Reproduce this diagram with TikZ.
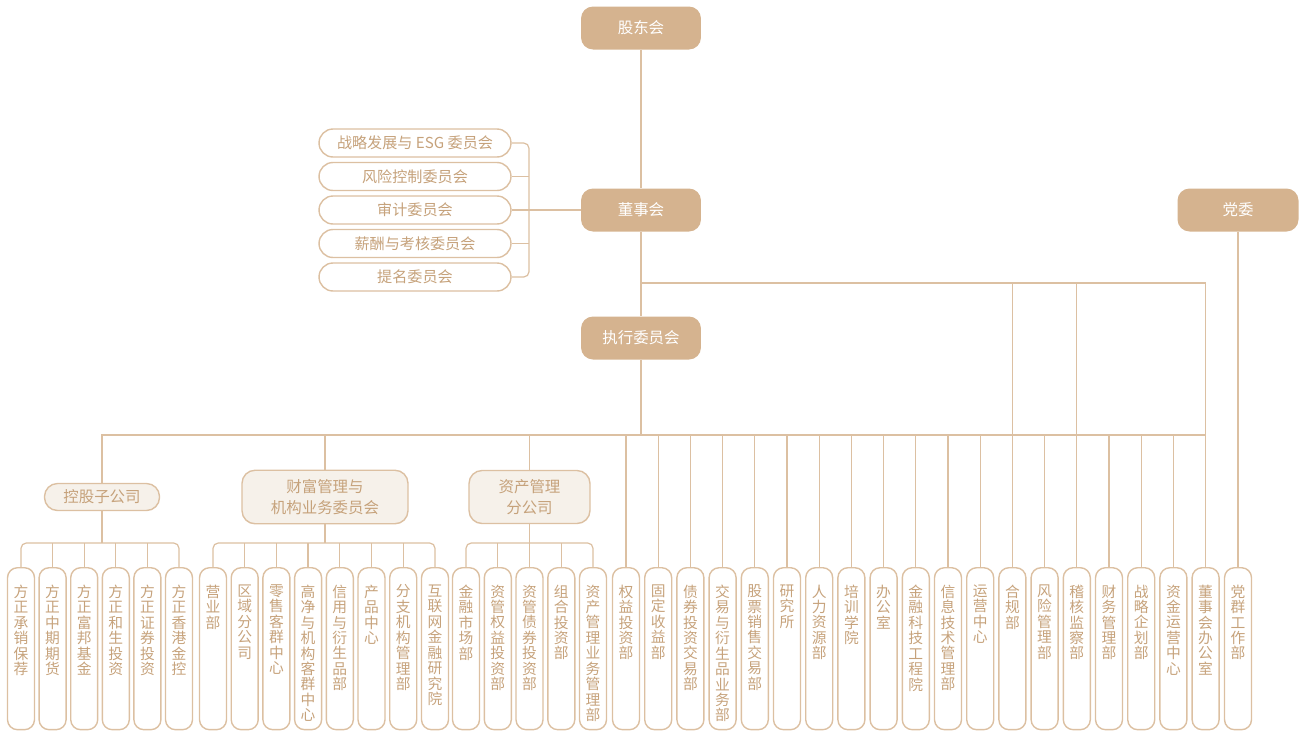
\documentclass[tikz,border=0pt]{standalone}
\usepackage{fontspec}
\newfontfamily\cjk{Noto Sans CJK SC}
\usepackage{tikz}
\usetikzlibrary{positioning}
\definecolor{tanfill}{HTML}{D5B38F}
\definecolor{tanline}{HTML}{DCC0A2}
\definecolor{tantext}{HTML}{C6A27B}
\definecolor{creamfill}{HTML}{F6F1EA}
% stack the characters of a column label
\def\colchars#1{\colcharsi#1\relax}
\def\colcharsi#1{\ifx\relax#1\else\hbox to 1em{\hss#1\hss}\expandafter\colcharsi\fi}
\newcommand\coltext[1]{\vbox to 2.56cm{\baselineskip=8.8pt\lineskiplimit=-20pt\colchars{#1}\vfill}}
\tikzset{
  topnode/.style={rounded corners=0.24cm, fill=tanfill, text=white, minimum width=2.4cm, minimum height=0.86cm, inner sep=0pt, font=\cjk\fontsize{8.8}{10}\selectfont},
  cmtnode/.style={rounded corners=0.28cm, draw=tanline, line width=0.8pt, fill=white, text=tantext, minimum width=3.84cm, minimum height=0.56cm, inner sep=0pt, font=\cjk\fontsize{8.6}{10}\selectfont},
  grpnode/.style={rounded corners=0.26cm, draw=tanline, line width=0.8pt, fill=creamfill, text=tantext, align=center, inner sep=0pt, font=\cjk\fontsize{8.8}{11.7}\selectfont},
  colbox/.style={rounded corners=0.2cm, draw=tanline, line width=0.8pt, anchor=north, text=tantext, minimum width=0.54cm, inner xsep=0pt, inner ysep=0.34cm, font=\cjk\fontsize{8.4}{8.8}\selectfont},
  link/.style={draw=tanline, line width=0.7pt},
}
\begin{document}
\begin{tikzpicture}[x=0.02cm, y=-0.02cm]
\useasboundingbox (0,0) rectangle (1301,731);
	% top level
\node [topnode] (gd) at (641,28) {股东会};
\node [topnode] (bd) at (641,210) {董事会};
\node [topnode] (ec) at (641,338) {执行委员会};
\node [topnode, minimum width=2.42cm] (pc) at (1238,210) {党委};
	% committees
\node [cmtnode] (cm1) at (415,143) {战略发展与 ESG 委员会};
\node [cmtnode] (cm2) at (415,176.5) {风险控制委员会};
\node [cmtnode] (cm3) at (415,210) {审计委员会};
\node [cmtnode] (cm4) at (415,243.5) {薪酬与考核委员会};
\node [cmtnode] (cm5) at (415,277) {提名委员会};
	% groups
\node [grpnode, minimum width=2.3cm, minimum height=0.54cm] (hc) at (102,497) {控股子公司};
\node [grpnode, minimum width=3.32cm, minimum height=1.07cm] (wm) at (325,497) {财富管理与\\机构业务委员会};
\node [grpnode, minimum width=2.42cm, minimum height=1.06cm] (am) at (529.5,497) {资产管理\\分公司};
	% columns
\node [colbox] (b0) at (21,567) {\coltext{方正承销保荐}};
\node [colbox] (b1) at (52.6,567) {\coltext{方正中期期货}};
\node [colbox] (b2) at (84.2,567) {\coltext{方正富邦基金}};
\node [colbox] (b3) at (115.8,567) {\coltext{方正和生投资}};
\node [colbox] (b4) at (147.4,567) {\coltext{方正证券投资}};
\node [colbox] (b5) at (179,567) {\coltext{方正香港金控}};
\node [colbox] (b6) at (213,567) {\coltext{营业部}};
\node [colbox] (b7) at (244.7,567) {\coltext{区域分公司}};
\node [colbox] (b8) at (276.4,567) {\coltext{零售客群中心}};
\node [colbox] (b9) at (308.1,567) {\coltext{高净与机构客群中心}};
\node [colbox] (b10) at (339.8,567) {\coltext{信用与衍生品部}};
\node [colbox] (b11) at (371.5,567) {\coltext{产品中心}};
\node [colbox] (b12) at (403.2,567) {\coltext{分支机构管理部}};
\node [colbox] (b13) at (435,567) {\coltext{互联网金融研究院}};
\node [colbox] (b14) at (466,567) {\coltext{金融市场部}};
\node [colbox] (b15) at (497.8,567) {\coltext{资管权益投资部}};
\node [colbox] (b16) at (529.5,567) {\coltext{资管债券投资部}};
\node [colbox] (b17) at (561.3,567) {\coltext{组合投资部}};
\node [colbox] (b18) at (593,567) {\coltext{资产管理业务管理部}};
\node [colbox] (b19) at (626,567) {\coltext{权益投资部}};
\node [colbox] (b20) at (658.2,567) {\coltext{固定收益部}};
\node [colbox] (b21) at (690.4,567) {\coltext{债券投资交易部}};
\node [colbox] (b22) at (722.6,567) {\coltext{交易与衍生品业务部}};
\node [colbox] (b23) at (754.8,567) {\coltext{股票销售交易部}};
\node [colbox] (b24) at (787,567) {\coltext{研究所}};
\node [colbox] (b25) at (819.2,567) {\coltext{人力资源部}};
\node [colbox] (b26) at (851.4,567) {\coltext{培训学院}};
\node [colbox] (b27) at (883.6,567) {\coltext{办公室}};
\node [colbox] (b28) at (915.8,567) {\coltext{金融科技工程院}};
\node [colbox] (b29) at (948,567) {\coltext{信息技术管理部}};
\node [colbox] (b30) at (980.2,567) {\coltext{运营中心}};
\node [colbox] (b31) at (1012.4,567) {\coltext{合规部}};
\node [colbox] (b32) at (1044.6,567) {\coltext{风险管理部}};
\node [colbox] (b33) at (1076.8,567) {\coltext{稽核监察部}};
\node [colbox] (b34) at (1109,567) {\coltext{财务管理部}};
\node [colbox] (b35) at (1141.2,567) {\coltext{战略企划部}};
\node [colbox] (b36) at (1173.4,567) {\coltext{资金运营中心}};
\node [colbox] (b37) at (1205.6,567) {\coltext{董事会办公室}};
\node [colbox] (b38) at (1238,567) {\coltext{党群工作部}};
	% connectors
\coordinate (bbus) at (641,283);
\coordinate (ebus) at (641,435);
\coordinate (hbus) at (0,543);
\coordinate (cmx) at (529,210);
\draw [link] (gd) -- (bd);
\draw [link] (bd) -- (ec);
\draw [link] (pc) -- (b38);
\draw [link, rounded corners=3pt] (cm1.east) -| (cmx) |- (cm5.east);
\draw [link] (cm2.east) -- (cm2.east -| cmx);
\draw [link] (cm4.east) -- (cm4.east -| cmx);
\draw [link] (cm3.east) -- (bd.west);
\draw [link] (bbus) -| (b37.north);
\foreach \i in {31,33} \draw [link] (bbus -| b\i.north) -- (b\i.north);
\draw [link] (ec) -- (ebus);
\draw [link] (hc.north) |- (ebus -| b37.north);
\foreach \n in {wm,am,b19,b20,b21,b22,b23,b24,b25,b26,b27,b28,b29,b30,b32,b34,b35,b36}
  \draw [link] (ebus -| \n.north) -- (\n.north);
	% group branches
\draw [link, rounded corners=3pt] (b0.north) |- (b5.north |- hbus) -- (b5.north);
\draw [link] (hc.south) -- (hc.south |- hbus);
\foreach \i in {1,...,4} \draw [link] (b\i.north |- hbus) -- (b\i.north);
\draw [link, rounded corners=3pt] (b6.north) |- (b13.north |- hbus) -- (b13.north);
\draw [link] (wm.south) -- (wm.south |- hbus);
\foreach \i in {7,...,12} \draw [link] (b\i.north |- hbus) -- (b\i.north);
\draw [link, rounded corners=3pt] (b14.north) |- (b18.north |- hbus) -- (b18.north);
\draw [link] (am.south) -- (am.south |- hbus);
\foreach \i in {15,16,17} \draw [link] (b\i.north |- hbus) -- (b\i.north);
\end{tikzpicture}
\end{document}
